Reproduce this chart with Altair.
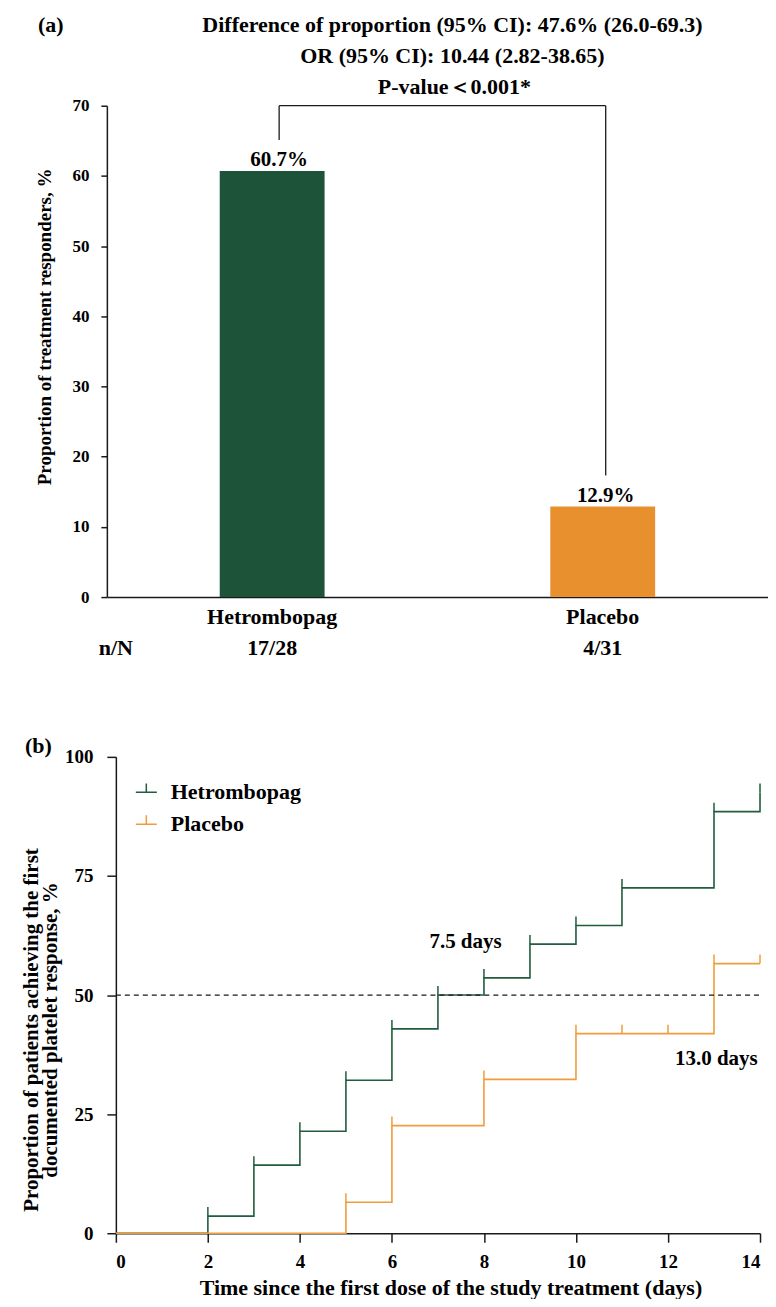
import altair as alt
import pandas as pd

FONT = "Liberation Serif"
GREEN_BAR = "#1d5439"
ORANGE_BAR = "#e88f2e"
GREEN_LINE = "#215c3e"
ORANGE_LINE = "#f09c3c"
INK = "#1a1a1a"

# ---------------- data: panel (a) ----------------
groups = ["Hetrombopag", "Placebo"]
responders_pct = [60.7, 12.9]
value_labels = ["60.7%", "12.9%"]
n_over_N = ["17/28", "4/31"]
nN_header = "n/N"
header_lines = [
    "Difference of proportion (95% CI): 47.6% (26.0-69.3)",
    "OR (95% CI): 10.44 (2.82-38.65)",
    "P-value＜0.001*",
]
bracket_top = 70
panel_tags = ["(a)", "(b)"]

# ---------------- data: panel (b) ----------------
het_days = [0, 2, 3, 4, 5, 6, 7, 8, 9, 10, 11, 13, 14]
het_pct = [0, 3.6, 14.3, 21.4, 32.1, 42.9, 50.0, 53.6, 60.7, 64.6, 72.5, 88.5, 92.5]
pla_days = [0, 5, 6, 8, 10, 13, 14]
pla_pct = [0, 6.5, 22.6, 32.3, 41.9, 56.6, 56.6]
het_censor_days = [2, 3, 4, 5, 6, 7, 8, 9, 10, 11, 13, 14]
het_censor_pct = [3.6, 14.3, 21.4, 32.1, 42.9, 50.0, 53.6, 60.7, 64.6, 72.5, 88.5, 92.5]
pla_censor_days = [5, 6, 8, 10, 11, 12, 13, 14]
pla_censor_pct = [6.5, 22.6, 32.3, 41.9, 41.9, 41.9, 56.6, 56.6]
median_text = ["7.5 days", "13.0 days"]
median_text_day = [7.6, 13.05]
median_text_pct = [61.2, 36.5]
half_line = [50]
day_range = [0, 14]
x_ticks_b = [0, 2, 4, 6, 8, 10, 12, 14]
y_ticks_b = [0, 25, 50, 75, 100]

# ================= panel (a) =================
W_A, H_A = 662, 492
bars_df = pd.DataFrame({"group": groups, "pct": responders_pct,
                        "label": value_labels, "nN": n_over_N})
base_a = alt.Chart(bars_df)

x_a = alt.X("group:N", sort=groups,
            scale=alt.Scale(paddingInner=0, paddingOuter=0),
            axis=alt.Axis(title=None, ticks=False, labelAngle=0, labelFontSize=22,
                          labelPadding=9, labelFont=FONT, labelFontWeight="bold",
                          labelColor="black", domainColor=INK, domainWidth=1.5))
y_a = alt.Y("pct:Q", scale=alt.Scale(domain=[0, 70], nice=False),
            axis=alt.Axis(values=list(range(0, 71, 10)), tickSize=6, tickWidth=1.5,
                          tickColor=INK, domainColor=INK, domainWidth=1.5,
                          labelFontSize=17, labelPadding=12, labelFont=FONT,
                          labelFontWeight="bold", labelColor="black", grid=False,
                          title="Proportion of treatment responders, %",
                          titleFont=FONT, titleFontWeight="bold", titleFontSize=19,
                          titleColor="black", titleX=-62, titleY=221, titleAngle=270,
                          titleAlign="center", titleBaseline="middle"))

bars = base_a.mark_bar(width=105).encode(
    x=x_a, y=y_a,
    color=alt.Color("group:N", scale=alt.Scale(domain=groups, range=[GREEN_BAR, ORANGE_BAR]),
                    legend=None))

lab_left = base_a.transform_filter(alt.datum.group == groups[0]).mark_text(
    font=FONT, fontWeight="bold", fontSize=21, baseline="middle", dy=-11, dx=7,
    color="black").encode(x=alt.X("group:N", sort=groups), y="pct:Q", text="label:N")
lab_right = base_a.transform_filter(alt.datum.group == groups[1]).mark_text(
    font=FONT, fontWeight="bold", fontSize=21, baseline="middle", dy=-11, dx=3,
    color="black").encode(x=alt.X("group:N", sort=groups), y="pct:Q", text="label:N")

bracket_df = pd.DataFrame({"a": [groups[0]], "b": [groups[1]], "top": [bracket_top]})
bracket_h = alt.Chart(bracket_df).mark_rule(color=INK, strokeWidth=1.3, xOffset=7,
                                            x2Offset=3).encode(
    x=alt.X("a:N", sort=groups, bandPosition=0.5),
    x2=alt.X2("b:N", bandPosition=0.5),
    y="top:Q")
leg_df = bars_df.assign(top=bracket_top)
leg_left = alt.Chart(leg_df).transform_filter(alt.datum.group == groups[0]).mark_rule(
    color=INK, strokeWidth=1.3, xOffset=7, y2Offset=-31).encode(
    x=alt.X("group:N", sort=groups), y="top:Q", y2="pct:Q")
leg_right = alt.Chart(leg_df).transform_filter(alt.datum.group == groups[1]).mark_rule(
    color=INK, strokeWidth=1.3, xOffset=3, y2Offset=-31).encode(
    x=alt.X("group:N", sort=groups), y="top:Q", y2="pct:Q")

nN_row = base_a.mark_text(font=FONT, fontWeight="bold", fontSize=22, baseline="middle",
                          color="black").encode(
    x=alt.X("group:N", sort=groups), y=alt.value(H_A + 51), text="nN:N")
nN_head = alt.Chart(bars_df.head(1)).mark_text(font=FONT, fontWeight="bold", fontSize=22,
                                               baseline="middle", color="black").encode(
    x=alt.value(9), y=alt.value(H_A + 51), text=alt.value(nN_header))

def note(txt, xpx, ypx, size=22, align="center"):
    return alt.Chart(bars_df.head(1)).mark_text(
        font=FONT, fontWeight="bold", fontSize=size, align=align, baseline="middle",
        color="black").encode(
        x=alt.value(xpx), y=alt.value(ypx), text=alt.value(txt))

head1 = note(header_lines[0], 346, -81)
head2 = note(header_lines[1], 346, -50)
head3 = note(header_lines[2], 348, -19)
tag_a = note(panel_tags[0], -69, -81, size=22, align="left")

panel_a = alt.layer(bars, bracket_h, leg_left, leg_right, lab_left, lab_right,
                    nN_row, nN_head, head1, head2, head3, tag_a).properties(
    width=W_A, height=H_A)

# ================= panel (b) =================
SHIFT_B = 9            # panel (b) axis sits 9 px right of panel (a) axis
W_B, H_B = 654, 477
km_df = pd.concat([
    pd.DataFrame({"day": het_days, "pct": het_pct, "group": groups[0]}),
    pd.DataFrame({"day": pla_days, "pct": pla_pct, "group": groups[1]}),
])
cens_df = pd.concat([
    pd.DataFrame({"day": het_censor_days, "pct": het_censor_pct, "group": groups[0]}),
    pd.DataFrame({"day": pla_censor_days, "pct": pla_censor_pct, "group": groups[1]}),
])
med_df = pd.DataFrame({"day": median_text_day, "pct": median_text_pct, "txt": median_text})

x_b = alt.X("day:Q", scale=alt.Scale(domain=day_range, nice=False, range=[SHIFT_B, W_B]),
            axis=alt.Axis(values=x_ticks_b, tickSize=9, tickWidth=1.5, tickColor=INK,
                          domainColor=INK, domainWidth=1.5, grid=False,
                          labelFontSize=19, labelPadding=10, labelFont=FONT,
                          labelFontWeight="bold", labelColor="black",
                          title="Time since the first dose of the study treatment (days)",
                          titleFont=FONT, titleFontWeight="bold", titleFontSize=22,
                          titleColor="black", titleX=344, titleY=54,
                          titleAlign="center", titleBaseline="middle"))
y_b = alt.Y("pct:Q", scale=alt.Scale(domain=[0, 100], nice=False),
            axis=alt.Axis(values=y_ticks_b, tickSize=9, tickWidth=1.5, tickColor=INK,
                          domainColor=INK, domainWidth=1.5, grid=False, offset=-SHIFT_B,
                          labelFontSize=19, labelPadding=14, labelFont=FONT,
                          labelFontWeight="bold", labelColor="black",
                          title=["Proportion of patients achieving the first",
                                 "documented platelet response, %"],
                          titleFont=FONT, titleFontWeight="bold", titleFontSize=21,
                          titleLineHeight=19, titleColor="black", titleX=-84,
                          titleY=273, titleAngle=270, titleAlign="center",
                          titleBaseline="middle"))

color_b = alt.Color("group:N",
                    scale=alt.Scale(domain=groups, range=[GREEN_LINE, ORANGE_LINE]),
                    legend=alt.Legend(title=None, orient="none", legendX=28, legendY=24,
                                      symbolType="M-1,0H1M0,0V-0.85", symbolSize=441,
                                      symbolStrokeWidth=1.5, symbolFillColor="transparent",
                                      labelFont=FONT, labelFontWeight="bold",
                                      labelFontSize=22, labelColor="black",
                                      labelOffset=13, rowPadding=8, padding=0,
                                      labelLimit=400))

half_df = pd.DataFrame({"y": half_line, "x0": [day_range[0]], "x1": [day_range[1]]})
half_rule = alt.Chart(half_df).mark_rule(
    color=INK, strokeWidth=1.2, strokeDash=[5, 4]).encode(
    x=alt.X("x0:Q", scale=alt.Scale(domain=day_range, nice=False, range=[SHIFT_B, W_B])),
    x2="x1:Q", y=alt.Y("y:Q"))
steps = alt.Chart(km_df).mark_line(interpolate="step-after", strokeWidth=1.6).encode(
    x=x_b, y=y_b, color=color_b)
censors = alt.Chart(cens_df).mark_point(shape="M0,0V-1", size=324, filled=False,
                                        strokeWidth=1.5, opacity=1).encode(
    x="day:Q", y="pct:Q", color=color_b)
med_lab = alt.Chart(med_df).mark_text(font=FONT, fontWeight="bold", fontSize=21,
                                      baseline="middle", color="black").encode(
    x="day:Q", y="pct:Q", text="txt:N")
tag_b = alt.Chart(med_df.head(1)).mark_text(font=FONT, fontWeight="bold", fontSize=22,
                                            align="left", baseline="middle",
                                            color="black").encode(
    x=alt.value(-82), y=alt.value(-11), text=alt.value(panel_tags[1]))

panel_b = alt.layer(steps, half_rule, censors, med_lab, tag_b).properties(
    width=W_B, height=H_B)

chart = alt.vconcat(panel_a, panel_b, spacing=160, bounds="flush").resolve_scale(
    color="independent").properties(
    padding={"left": 13, "top": 5, "right": 0, "bottom": 0}
).configure_view(stroke=None)

chart.save("out.html", embed_options={"renderer": "svg", "actions": False})
